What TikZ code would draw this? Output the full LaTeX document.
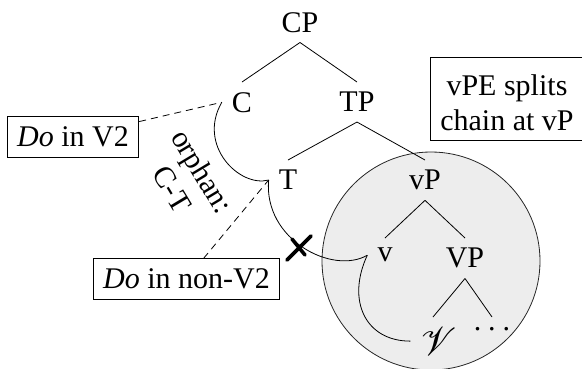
\documentclass[tikz,border=0pt]{standalone}
\usepackage{fontspec}
\usepackage{graphicx}
\setmainfont{Liberation Serif}
\begin{document}
\begin{tikzpicture}[x=1pt,y=1pt,
  every node/.style={font=\fontsize{30}{35}\selectfont, inner sep=10pt},
  cat/.style={},
  branch/.style={line width=0.8pt},
  movement/.style={line width=0.8pt},
  note/.style={draw, line width=0.8pt, align=center},
  link/.style={line width=0.8pt, dash pattern=on 7pt off 5pt},
  vpregion/.style={fill=black!7, draw=black!85, line width=0.8pt},
  blockmark/.style={line width=3.6pt, line cap=round}]
\useasboundingbox (0,0) rectangle (582,-368);

% shaded vP region
\filldraw[vpregion] (431,-261) circle (109);

% tree
\node[cat, anchor=base]  (CP)  at (300,-32)  {CP};
\node[cat, anchor=north] (C)   at (242,-82)  {C};
\node[cat, anchor=north] (TP)  at (357,-82)  {TP};
\node[cat, anchor=north] (T)   at (288,-160) {T};
\node[cat, anchor=north] (vP)  at (425,-160) {vP};
\node[cat, anchor=north] (v)   at (385,-238) {v};
\node[cat, anchor=north] (VP)  at (465,-238) {VP};
\node[cat, anchor=north] (V)   at (433,-317) {\scalebox{1.6}{\usefont{U}{rsfs}{m}{n}V}};
\node[cat, anchor=north] (rest) at (492,-317) {.\kern7pt.\kern7pt.};

\draw[branch] (CP.south) -- (C.north);
\draw[branch] (CP.south) -- (TP.north);
\draw[branch] (TP.south) -- (T.north);
\draw[branch] (TP.south) -- (vP.north);
\draw[branch] (vP.south) -- (v.north);
\draw[branch] (vP.south) -- (VP.north);
\draw[branch] (VP.south) -- (V.north);
\draw[branch] (VP.south) -- (rest.north);

% annotations
\node[note] (dov2)   at (73,-137)   {\textit{Do} in V2};
\node[note] (donon)  at (186.5,-279) {\textit{Do} in non-V2};
\node[note, inner ysep=9pt] (split) at (507,-99) {\rule{0pt}{29pt}vPE splits\\chain at vP};
\node[align=center, rotate=-59, inner sep=0pt] (orphan) at (187.5,-180) {orphan:\\C-T};

\draw[link] (dov2) -- (C.west);
\draw[link] (donon) -- (T.west);

% head movement chain
\draw[movement] (C.west) to[out=-120, in=195, out distance=50pt, in distance=30pt] (T.west);
\draw[movement] (T.west) to[out=-95, in=210, out distance=60pt, in distance=40pt] (v.west);
\draw[movement] (v.west) to[out=-115, in=180, out distance=50pt, in distance=45pt] (V.west);

% blocked link
\draw[blockmark] (287,-260) -- (311,-236);
\draw[blockmark] (292,-239) -- (305,-255);
\end{tikzpicture}
\end{document}
